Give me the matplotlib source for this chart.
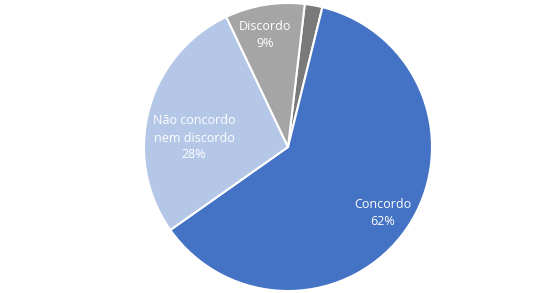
import matplotlib
matplotlib.use("Agg")
import matplotlib.pyplot as plt
import numpy as np

categories = ["Discordo totalmente", "Concordo", "Não concordo\nnem discordo", "Discordo"]
values = [2, 62, 28, 9]
show_label = [False, True, True, True]
colors = ["#7a7a7a", "#4472C4", "#B4C7E7", "#A5A5A5"]

plt.rcParams['font.family'] = ['Open Sans', 'DejaVu Sans']

fig = plt.figure(figsize=(5.6, 2.93), dpi=100)
cx, cy, r = 288, 293 - 147, 144
ax = fig.add_axes([(cx - r) / 560, (cy - r) / 293, 2 * r / 560, 2 * r / 293])
wedges, _ = ax.pie(values, colors=colors, startangle=83.3, counterclock=False,
                   radius=1, wedgeprops=dict(edgecolor="white", linewidth=1.5))
ax.set_xlim(-1, 1)
ax.set_ylim(-1, 1)
ax.set_aspect("equal")
ax.axis("off")

label_pos = {1: (0.66, -0.455), 2: (-0.653, 0.0625), 3: (-0.16, 0.78)}
for i, w in enumerate(wedges):
    if not show_label[i]:
        continue
    x, y = label_pos[i]
    ax.text(x, y, f"{categories[i]}\n{values[i]}%", ha="center", va="center",
            color="white", fontsize=9, linespacing=1.4)

fig.savefig("out.png", dpi=100)
